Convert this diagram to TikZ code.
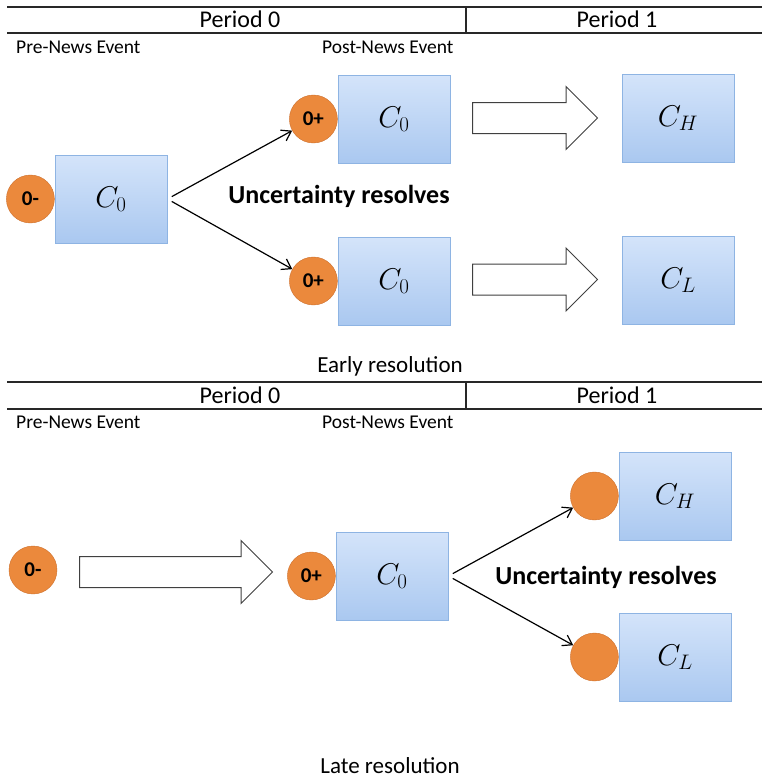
\RequirePackage{fix-cm}
\documentclass[tikz,border=0pt]{standalone}
\usepackage{fontspec}
\setmainfont{Carlito}
\usetikzlibrary{arrows.meta, shapes.arrows, positioning}
\definecolor{boxtop}{RGB}{212,228,250}
\definecolor{boxbot}{RGB}{170,200,240}
\definecolor{boxline}{RGB}{142,180,227}
\definecolor{dotfill}{RGB}{235,137,60}
\definecolor{dotline}{RGB}{205,112,45}
\definecolor{rulegray}{RGB}{40,40,40}

\begin{document}
\begin{tikzpicture}[x=1pt, y=-1pt,
    box/.style={draw=boxline, line width=0.8pt, top color=boxtop, bottom color=boxbot, minimum width=112pt, minimum height=88pt, inner sep=0pt, font=\fontsize{30}{32}\selectfont},
    tdot/.style={circle, draw=dotline, fill=dotfill, minimum size=48pt, inner sep=0pt, font=\fontsize{21}{23}\selectfont\bfseries},
    bigarr/.style={single arrow, draw=black!75, fill=white, line width=1pt, inner xsep=0pt, inner ysep=15pt, single arrow head extend=16pt, single arrow tip angle=90, anchor=tail},
    arr/.style={-{Straight Barb[length=9pt, width=12pt]}, line width=1.2pt, shorten <=5pt},
    hdr/.style={font=\fontsize{24}{26}\selectfont},
    sub/.style={font=\fontsize{19.5}{21}\selectfont, anchor=west, inner sep=0pt},
    lbl/.style={font=\fontsize{26}{28}\selectfont\bfseries},
    capt/.style={font=\fontsize{23}{25}\selectfont},
    rule/.style={draw=rulegray, line width=1.5pt},
  ]
    \useasboundingbox (0,0) rectangle (762,782);

    % early resolution
    \draw[rule] (7,7) -- (762,7);
    \draw[rule] (7,33) -- (762,33);
    \draw[rule] (466,7) -- (466,33);
    \node[hdr] (pzeroa) at (240,19) {Period 0};
    \node[hdr] (ponea) at (617,19) {Period 1};
    \node[sub] (prea) at (16,47) {Pre-News Event};
    \node[sub] (posta) at (322,47) {Post-News Event};

    \node[box] (cza) at (111,199) {$C_0$};
    \node[tdot, left=0pt of cza] (ma) {0-};
    \node[box] (czb) at (394,119) {$C_0$};
    \node[tdot, left=0pt of czb] (pa) {0+};
    \node[box] (czc) at (394,281) {$C_0$};
    \node[tdot, left=0pt of czc] (pb) {0+};
    \node[box] (cha) at (678,118) {$C_H$};
    \node[box] (cla) at (678,280) {$C_L$};

    \node[bigarr, minimum height=125pt] (ba) at (472,118) {};
    \node[bigarr, minimum height=125pt] (bb) at (472,279.5) {};

    \draw[arr] (cza.east) -- (pa);
    \draw[arr] (cza.east) -- (pb);
    \node[lbl] (ura) at (339,196) {Uncertainty resolves};
    \node[capt] (early) at (390,366) {Early resolution};

    % late resolution
    \draw[rule] (7,382) -- (762,382);
    \draw[rule] (7,409) -- (762,409);
    \draw[rule] (466,382) -- (466,409);
    \node[hdr] (pzerob) at (240,395) {Period 0};
    \node[hdr] (poneb) at (617,395) {Period 1};
    \node[sub] (preb) at (16,422) {Pre-News Event};
    \node[sub] (postb) at (322,422) {Post-News Event};

    \node[tdot] (mb) at (33,570) {0-};
    \node[bigarr, minimum height=193pt] (bc) at (79,572) {};
    \node[box] (czd) at (392,576) {$C_0$};
    \node[tdot, left=0pt of czd] (pc) {0+};
    \node[box] (chb) at (675,496) {$C_H$};
    \node[tdot, left=0pt of chb] (hb) {};
    \node[box] (clb) at (675,657) {$C_L$};
    \node[tdot, left=0pt of clb] (lb) {};

    \draw[arr] (czd.east) -- (hb);
    \draw[arr] (czd.east) -- (lb);
    \node[lbl] (urb) at (606,577) {Uncertainty resolves};
    \node[capt] (late) at (390,766) {Late resolution};
  \end{tikzpicture}
\end{document}
